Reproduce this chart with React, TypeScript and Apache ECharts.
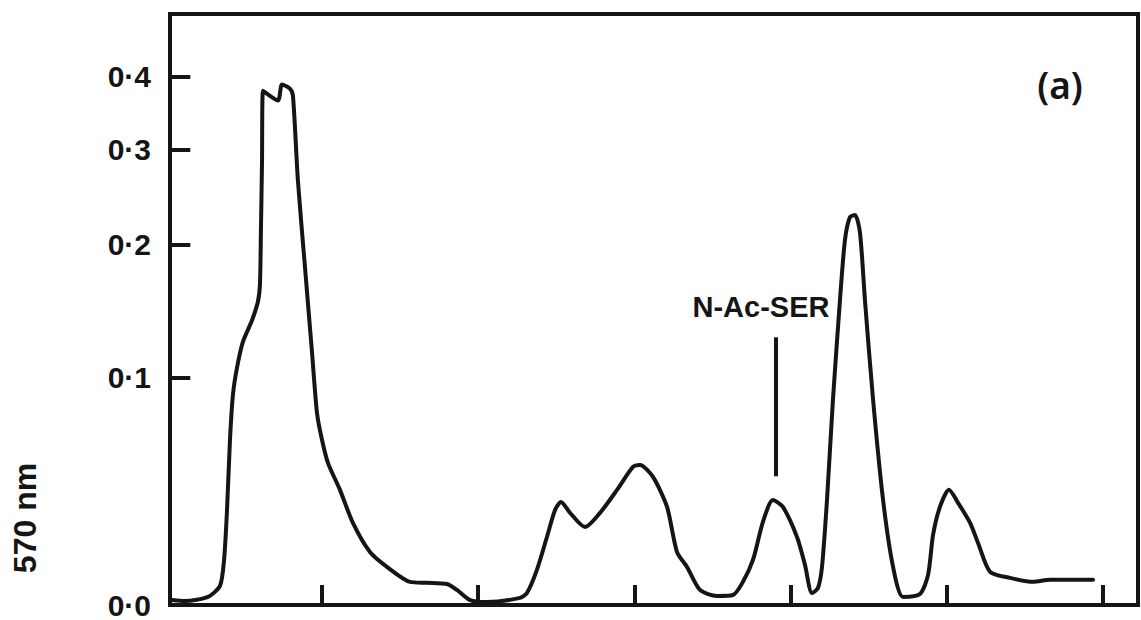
import React, { useEffect, useRef } from "react";
import * as echarts from "echarts";

// ---- data ----
const xTickValues = [1, 2, 3, 4, 5, 6];
const yTickValues = [0, 0.1, 0.2, 0.3, 0.4];
const yTickLabels = ["0·0", "0·1", "0·2", "0·3", "0·4"];

const elution = [
  0.04, 0.123, 0.27, 0.347, 0.373, 0.392, 0.411, 0.43, 0.456, 0.494, 0.552, 0.59, 0.603, 0.609,
  0.616, 0.622, 0.718, 0.744, 0.795, 0.814, 0.846, 0.891, 0.936, 0.968, 1.0, 1.038, 1.115, 1.198,
  1.307, 1.416, 1.563, 1.672, 1.8, 1.864, 1.948, 2.056, 2.268, 2.312, 2.376, 2.44, 2.492, 2.53,
  2.588, 2.684, 2.78, 2.889, 2.991, 3.036, 3.119, 3.209, 3.273, 3.337, 3.42, 3.529, 3.631, 3.695,
  3.759, 3.823, 3.887, 3.951, 4.041, 4.092, 4.137, 4.175, 4.201, 4.233, 4.271, 4.316, 4.348, 4.38,
  4.412, 4.444, 4.476, 4.528, 4.592, 4.656, 4.72, 4.828, 4.88, 4.912, 4.956, 5.014, 5.072, 5.149,
  5.2, 5.277, 5.405, 5.552, 5.661, 5.936,
];
const absorbance = [
  0.0015, 0.0012, 0.0025, 0.006, 0.0147, 0.0336, 0.0654, 0.0897, 0.106, 0.123, 0.138, 0.152, 0.166,
  0.212, 0.285, 0.379, 0.365, 0.388, 0.382, 0.372, 0.264, 0.18, 0.116, 0.0795, 0.0654, 0.0542, 0.042,
  0.0284, 0.0175, 0.0123, 0.0073, 0.007, 0.0066, 0.0047, 0.0015, 0.0009, 0.0022, 0.0037, 0.0113,
  0.023, 0.0336, 0.0369, 0.0324, 0.0268, 0.0324, 0.042, 0.0523, 0.0532, 0.0477, 0.0348, 0.0175,
  0.0123, 0.0047, 0.0028, 0.0031, 0.0073, 0.0147, 0.0288, 0.0377, 0.0348, 0.023, 0.013, 0.0037,
  0.0053, 0.0123, 0.0377, 0.0868, 0.153, 0.204, 0.226, 0.228, 0.211, 0.153, 0.0868, 0.0377, 0.0123,
  0.0025, 0.0034, 0.0096, 0.0238, 0.0348, 0.042, 0.0365, 0.0284, 0.0208, 0.0106, 0.0086, 0.0073,
  0.008, 0.008,
];

const annotationLabel = "N-Ac-SER";
const annotationX = 3.906;
const annotationFrom = 0.048;
const annotationTo = 0.126;

const xMin = 0.027;
const xMax = 6.224;
const yTop = 0.505;
const yTickLen = 0.13; // length of the inward y ticks, in x-axis units

// recorder scale: position proportional to ln(1 + 10 A)
const toScale = (v: number) => Math.log(1 + 10 * v);

const INK = "#151515";

export default function App() {
  const ref = useRef<HTMLDivElement>(null);

  useEffect(() => {
    if (!ref.current) return;
    const chart = echarts.init(ref.current, undefined, { renderer: "svg" });
    const scaledTicks = yTickValues.map(toScale);
    const data = elution.map((x, i) => [x, toScale(absorbance[i])]);

    const tickSegments = scaledTicks
      .filter((t) => t > 0)
      .map((t) => [{ coord: [xMin, t] }, { coord: [xMin + yTickLen, t] }]);

    chart.setOption({
      animation: false,
      backgroundColor: "#ffffff",
      grid: {
        left: 170,
        right: 3,
        top: 14,
        bottom: 15,
        show: true,
        borderColor: INK,
        borderWidth: 4,
      },
      xAxis: {
        type: "value",
        min: xMin,
        max: xMax,
        axisLine: { show: true, lineStyle: { color: INK, width: 4 } },
        axisTick: {
          show: true,
          inside: true,
          length: 20,
          customValues: xTickValues,
          lineStyle: { color: INK, width: 4 },
        },
        axisLabel: { show: false },
        splitLine: { show: false },
      },
      yAxis: {
        type: "value",
        min: 0,
        max: toScale(yTop),
        axisLine: { show: true, lineStyle: { color: INK, width: 4 } },
        axisTick: { show: false },
        axisLabel: {
          show: true,
          customValues: scaledTicks,
          margin: 19,
          color: INK,
          fontSize: 30,
          lineHeight: 26,
          fontWeight: "bold",
          fontFamily: "Liberation Sans, Arial, sans-serif",
          formatter: (val: number) => {
            let best = 0;
            scaledTicks.forEach((t, i) => {
              if (Math.abs(t - val) < Math.abs(scaledTicks[best] - val)) best = i;
            });
            return yTickLabels[best];
          },
        },
        splitLine: { show: false },
      },
      series: [
        {
          type: "line",
          data,
          showSymbol: false,
          smooth: 0.25,
          lineStyle: { color: INK, width: 4, join: "round", cap: "round" },
          markLine: {
            silent: true,
            symbol: "none",
            label: { show: false },
            lineStyle: { color: INK, width: 4, type: "solid" },
            data: [
              [
                { coord: [annotationX, toScale(annotationFrom)] },
                { coord: [annotationX, toScale(annotationTo)] },
              ],
              ...tickSegments,
            ],
          },
        },
      ],
      graphic: [
        {
          type: "text",
          x: 1060,
          y: 84,
          style: {
            text: "(a)",
            fill: INK,
            font: "600 37px 'Noto Sans', sans-serif",
            textAlign: "center",
            textVerticalAlign: "middle",
          },
        },
        {
          type: "text",
          x: 761,
          y: 307,
          style: {
            text: annotationLabel,
            fill: INK,
            font: "bold 29px 'Liberation Sans', Arial, sans-serif",
            textAlign: "center",
            textVerticalAlign: "middle",
          },
        },
        {
          type: "text",
          x: 25,
          y: 518,
          rotation: Math.PI / 2,
          style: {
            text: "570 nm",
            fill: INK,
            font: "bold 32px 'Liberation Sans', Arial, sans-serif",
            textAlign: "center",
            textVerticalAlign: "middle",
          },
        },
      ],
    });

    return () => chart.dispose();
  }, []);

  return (
    <div
      ref={ref}
      style={{ position: "fixed", left: 0, top: 0, width: 1141, height: 620, background: "#fff" }}
    />
  );
}
